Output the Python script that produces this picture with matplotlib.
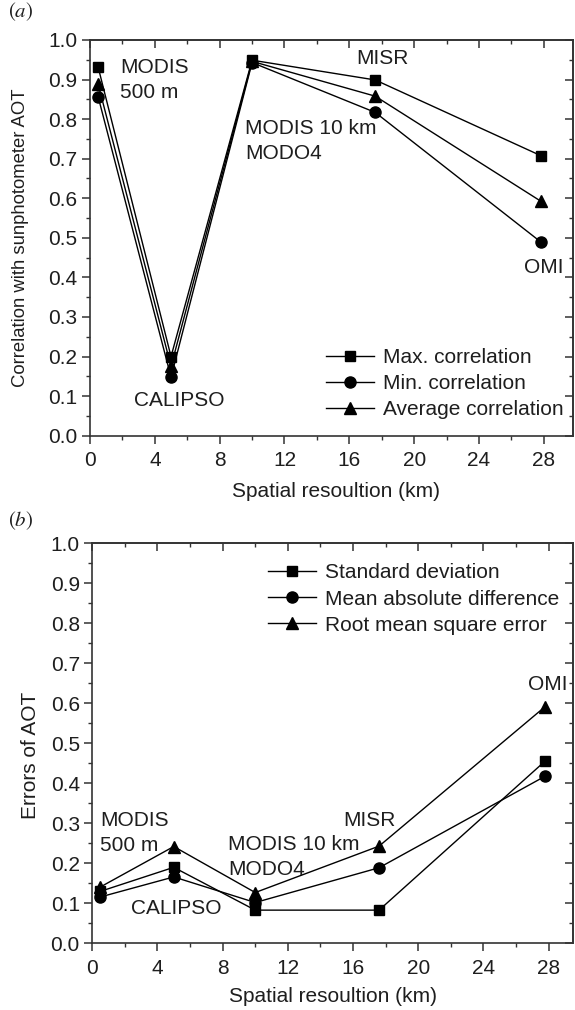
import matplotlib
matplotlib.use('Agg')
import matplotlib.pyplot as plt
from matplotlib.ticker import MultipleLocator

plt.rcParams['font.family'] = ['Liberation Sans', 'DejaVu Sans']
plt.rcParams['mathtext.fontset'] = 'stix'

# resolucao espacial dos sensores (km)
resolucao = [0.5, 5, 10, 17.6, 27.8]

# (a) correlacao com o fotometro solar
corr_max = [0.932, 0.200, 0.949, 0.899, 0.708]
corr_min = [0.857, 0.148, 0.943, 0.817, 0.490]
corr_media = [0.889, 0.175, 0.946, 0.858, 0.593]

# (b) erros de AOT
desvio_padrao = [0.130, 0.190, 0.083, 0.083, 0.456]
dif_abs_media = [0.116, 0.166, 0.102, 0.189, 0.418]
rmse = [0.141, 0.242, 0.127, 0.243, 0.592]

legenda_a = ['Max. correlation', 'Min. correlation', 'Average correlation']
legenda_b = ['Standard deviation', 'Mean absolute difference', 'Root mean square error']

TXT = '#1e1e1e'
FS = 15
marcadores = ['s', 'o', '^']
tam_marc = [7.5, 8, 8.5]


def estilo_eixo(ax, xmax):
    ax.set_xlim(0, xmax)
    ax.set_ylim(0, 1.0)
    ax.xaxis.set_major_locator(MultipleLocator(4))
    ax.xaxis.set_minor_locator(MultipleLocator(2))
    ax.yaxis.set_major_locator(MultipleLocator(0.1))
    ax.yaxis.set_minor_locator(MultipleLocator(0.05))
    ax.yaxis.set_major_formatter(plt.FormatStrFormatter('%.1f'))
    ax.tick_params(which='major', direction='out', length=6, width=1.1, colors='#333333',
                   labelsize=FS, labelcolor=TXT)
    ax.tick_params(which='minor', direction='out', length=3.2, width=1.0, colors='#333333')
    ax.tick_params(axis='x', which='major', pad=5)
    ax.tick_params(axis='y', which='major', pad=3)
    for s in ax.spines.values():
        s.set_linewidth(1.2)
        s.set_color('#333333')

    # ticks espelhados (topo e direita) para dentro, sem rotulos
    topo = ax.secondary_xaxis('top')
    topo.xaxis.set_major_locator(MultipleLocator(4))
    topo.xaxis.set_minor_locator(MultipleLocator(2))
    topo.tick_params(which='major', direction='in', length=6, width=1.1, colors='#333333',
                     labeltop=False)
    topo.tick_params(which='minor', direction='in', length=3.2, width=1.0, colors='#333333')
    topo.spines['top'].set_linewidth(1.2)
    topo.spines['top'].set_color('#333333')
    dir_ = ax.secondary_yaxis('right')
    dir_.yaxis.set_major_locator(MultipleLocator(0.1))
    dir_.yaxis.set_minor_locator(MultipleLocator(0.05))
    dir_.tick_params(which='major', direction='in', length=6, width=1.1, colors='#333333',
                     labelright=False)
    dir_.tick_params(which='minor', direction='in', length=3.2, width=1.0, colors='#333333')
    dir_.spines['right'].set_linewidth(1.2)
    dir_.spines['right'].set_color('#333333')


fig = plt.figure(figsize=(5.75, 10.1), dpi=100)

# ---------- (a) ----------
ax1 = fig.add_axes([0.1565, 0.5686, 0.8400, 0.3918])
for serie, m, ms, lab in zip([corr_max, corr_min, corr_media], marcadores, tam_marc, legenda_a):
    ax1.plot(resolucao, serie, '-', color='black', linewidth=1.0, marker=m,
             markersize=ms, markerfacecolor='black', markeredgecolor='black', label=lab)
estilo_eixo(ax1, 29.8)
ax1.set_xlabel('Spatial resoultion (km)', fontsize=FS, color=TXT)
ax1.set_ylabel('Correlation with sunphotometer AOT', fontsize=13.3, color=TXT)
ax1.xaxis.set_label_coords(0.509, -0.118)
ax1.yaxis.set_label_coords(-0.126, 0.5)

ax1.text(1.85, 0.899, 'MODIS\n500 m', fontsize=FS, color=TXT, ha='left', va='center', linespacing=1.4)
ax1.text(9.57, 0.745, 'MODIS 10 km\nMODO4', fontsize=FS, color=TXT, ha='left', va='center', linespacing=1.4)
ax1.text(18.06, 0.952, 'MISR', fontsize=FS, color=TXT, ha='center', va='center')
ax1.text(28.0, 0.426, 'OMI', fontsize=FS, color=TXT, ha='center', va='center')
ax1.text(5.49, 0.090, 'CALIPSO', fontsize=FS, color=TXT, ha='center', va='center')

ax1.legend(loc='upper left', bbox_to_anchor=(0.489, 0.221), frameon=False, fontsize=FS,
           handlelength=2.3, handletextpad=0.45, labelspacing=0.34, borderpad=0,
           borderaxespad=0, labelcolor=TXT)

# ---------- (b) ----------
ax2 = fig.add_axes([0.1605, 0.0660, 0.8360, 0.3961])
for serie, m, ms, lab in zip([desvio_padrao, dif_abs_media, rmse], marcadores, tam_marc, legenda_b):
    ax2.plot(resolucao, serie, '-', color='black', linewidth=1.0, marker=m,
             markersize=ms, markerfacecolor='black', markeredgecolor='black', label=lab)
estilo_eixo(ax2, 29.5)
ax2.set_xlabel('Spatial resoultion (km)', fontsize=FS, color=TXT)
ax2.set_ylabel('Errors of AOT', fontsize=FS, color=TXT)
ax2.xaxis.set_label_coords(0.5, -0.110)
ax2.yaxis.set_label_coords(-0.108, 0.47)

ax2.text(0.47, 0.276, 'MODIS\n500 m', fontsize=FS, color=TXT, ha='left', va='center', linespacing=1.4)
ax2.text(8.33, 0.217, 'MODIS 10 km\nMODO4', fontsize=FS, color=TXT, ha='left', va='center', linespacing=1.4)
ax2.text(5.13, 0.088, 'CALIPSO', fontsize=FS, color=TXT, ha='center', va='center')
ax2.text(16.98, 0.308, 'MISR', fontsize=FS, color=TXT, ha='center', va='center')
ax2.text(27.93, 0.648, 'OMI', fontsize=FS, color=TXT, ha='center', va='center')

ax2.legend(loc='upper left', bbox_to_anchor=(0.3655, 0.9495), frameon=False, fontsize=FS,
           handlelength=2.3, handletextpad=0.45, labelspacing=0.34, borderpad=0,
           borderaxespad=0, labelcolor=TXT)

# rotulos dos paineis
fig.text(8 / 575, 1 - 12 / 1010, r'$(a)$', fontsize=15, color=TXT, ha='left', va='center')
fig.text(8 / 575, 1 - 521 / 1010, r'$(b)$', fontsize=15, color=TXT, ha='left', va='center')

fig.savefig('out.png', dpi=100)
